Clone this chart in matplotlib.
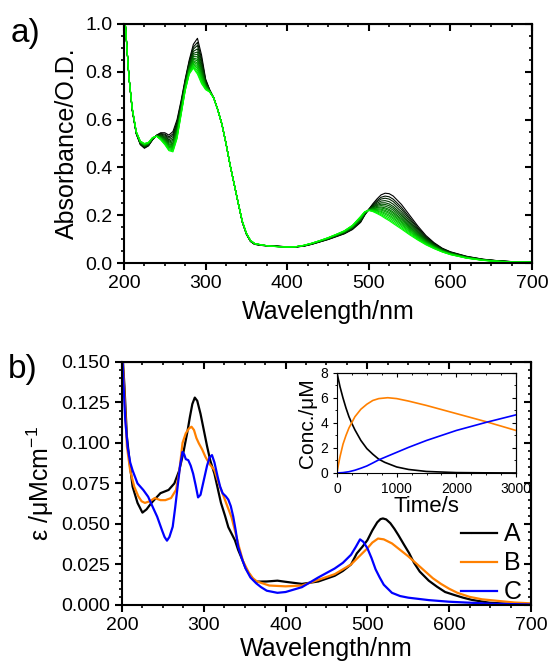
import numpy as np
import matplotlib
matplotlib.use("Agg")
import matplotlib.pyplot as plt
from matplotlib.ticker import MultipleLocator

plt.rcParams['font.family'] = ['Liberation Sans', 'DejaVu Sans']
plt.rcParams['mathtext.default'] = 'regular'

# panel a: first (black) and last (green) spectra of the series
wl_a = [200, 203, 206, 210, 215, 220, 225, 230, 235, 240, 245, 250, 255, 260, 265,
        270, 275, 280, 285, 290, 295, 300, 305, 310, 315, 320, 325, 330, 335, 340,
        345, 350, 355, 360, 370, 380, 390, 400, 410, 420, 430, 440, 450, 460, 470,
        480, 490, 495, 500, 505, 510, 515, 520, 525, 530, 540, 550, 560, 570, 580,
        590, 600, 620, 640, 660, 680, 700]
abs_first = [1.08, 0.93, 0.78, 0.64, 0.54, 0.495, 0.48, 0.49, 0.515, 0.535, 0.545, 0.545,
             0.535, 0.55, 0.60, 0.68, 0.77, 0.85, 0.915, 0.94, 0.87, 0.77, 0.725, 0.69,
             0.64, 0.58, 0.50, 0.41, 0.33, 0.25, 0.17, 0.12, 0.09, 0.078, 0.073, 0.072,
             0.070, 0.068, 0.067, 0.070, 0.078, 0.088, 0.098, 0.110, 0.122, 0.140, 0.170,
             0.200, 0.225, 0.248, 0.268, 0.285, 0.292, 0.290, 0.280, 0.245, 0.200, 0.155,
             0.115, 0.085, 0.062, 0.047, 0.028, 0.016, 0.009, 0.005, 0.004]
abs_last = [1.08, 0.93, 0.78, 0.65, 0.55, 0.51, 0.50, 0.505, 0.525, 0.53, 0.515, 0.495,
            0.47, 0.465, 0.52, 0.62, 0.72, 0.79, 0.815, 0.79, 0.75, 0.725, 0.715, 0.69,
            0.64, 0.58, 0.50, 0.41, 0.33, 0.25, 0.175, 0.125, 0.095, 0.082, 0.075, 0.070,
            0.068, 0.067, 0.068, 0.074, 0.083, 0.094, 0.106, 0.120, 0.135, 0.158, 0.195,
            0.215, 0.220, 0.215, 0.207, 0.198, 0.187, 0.177, 0.165, 0.142, 0.118, 0.096,
            0.076, 0.060, 0.046, 0.035, 0.020, 0.011, 0.006, 0.004, 0.003]
# absorbance at 520 nm of each trace, first to last
peak520 = [0.292, 0.280, 0.271, 0.261, 0.252, 0.245, 0.238, 0.231, 0.226, 0.220,
           0.215, 0.209, 0.204, 0.198, 0.192, 0.187]

# panel b: component spectra
wl_A = [200, 203, 206, 210, 213, 219, 225, 230, 236, 247, 257, 264, 270, 275, 280, 283,
        286, 289, 292, 296, 300, 304, 308, 313, 317, 321, 326, 330, 334, 338, 342, 347,
        351, 355, 360, 364, 377, 390, 400, 420, 440, 460, 470, 480, 487, 494, 500, 506,
        512, 516, 519, 523, 528, 533, 538, 545, 551, 557, 564, 575, 585, 595, 606, 617,
        628, 649, 670, 700]
eps_A = [0.160, 0.135, 0.104, 0.085, 0.073, 0.063, 0.057, 0.059, 0.063, 0.069, 0.071,
         0.075, 0.083, 0.094, 0.107, 0.116, 0.124, 0.128, 0.126, 0.118, 0.108, 0.098,
         0.089, 0.081, 0.072, 0.063, 0.055, 0.048, 0.044, 0.040, 0.034, 0.028, 0.023,
         0.0195, 0.016, 0.0144, 0.0145, 0.015, 0.0143, 0.013, 0.0145, 0.018, 0.021,
         0.025, 0.0318, 0.036, 0.040, 0.046, 0.051, 0.053, 0.0534, 0.0528, 0.0505, 0.047,
         0.043, 0.037, 0.032, 0.026, 0.0206, 0.015, 0.0113, 0.008, 0.0062, 0.0045,
         0.0031, 0.0014, 0.0008, 0.0005]
wl_B = [200, 203, 206, 210, 215, 220, 224, 228, 234, 240, 247, 253, 260, 266, 270, 274,
        278, 282, 285, 288, 291, 294, 298, 302, 307, 313, 319, 326, 334, 338, 343, 348,
        355, 360, 365, 380, 400, 420, 440, 460, 480, 490, 500, 506, 513, 520, 530, 540,
        550, 560, 570, 580, 590, 600, 610, 625, 640, 660, 680, 700]
eps_B = [0.160, 0.130, 0.098, 0.083, 0.073, 0.067, 0.064, 0.063, 0.064, 0.066, 0.0647,
         0.0647, 0.066, 0.071, 0.082, 0.100, 0.106, 0.109, 0.110, 0.108, 0.103, 0.0997,
         0.096, 0.0914, 0.087, 0.0832, 0.074, 0.0647, 0.054, 0.046, 0.036, 0.027, 0.020,
         0.0165, 0.0145, 0.012, 0.0115, 0.012, 0.0155, 0.019, 0.025, 0.030, 0.035, 0.0385,
         0.041, 0.0405, 0.038, 0.034, 0.030, 0.0255, 0.021, 0.0165, 0.013, 0.010, 0.0075,
         0.005, 0.0035, 0.0025, 0.0015, 0.001]
wl_C = [200, 202, 204, 207, 210, 213, 219, 226, 232, 238, 243, 249, 252, 255, 258, 262,
        265, 268, 271, 274, 276, 278, 281, 284, 287, 290, 293, 296, 300, 304, 307, 310,
        313, 317, 320, 323, 327, 330, 333, 336, 339, 342, 347, 351, 357, 364, 370, 377,
        390, 400, 420, 440, 460, 470, 480, 486, 491, 495, 500, 505, 510, 515, 520, 530,
        540, 550, 575, 600, 650, 700]
eps_C = [0.160, 0.135, 0.114, 0.097, 0.088, 0.083, 0.075, 0.071, 0.0668, 0.060, 0.0545,
         0.046, 0.042, 0.0397, 0.042, 0.0483, 0.060, 0.073, 0.086, 0.0945, 0.093, 0.090,
         0.0894, 0.086, 0.081, 0.074, 0.0664, 0.068, 0.077, 0.086, 0.091, 0.0925, 0.088,
         0.079, 0.073, 0.069, 0.067, 0.065, 0.061, 0.0545, 0.046, 0.036, 0.028, 0.0226,
         0.017, 0.0134, 0.011, 0.0088, 0.0075, 0.008, 0.011, 0.017, 0.0225, 0.026, 0.031,
         0.036, 0.0405, 0.039, 0.035, 0.029, 0.022, 0.017, 0.0125, 0.0075, 0.0055, 0.0045,
         0.003, 0.002, 0.0008, 0.0003]

# inset: concentration traces
t_A = [0, 50, 100, 150, 200, 250, 300, 400, 500, 600, 700, 800, 1000, 1200, 1500, 2000, 2500, 3000]
c_A = [8.0, 6.9, 6.0, 5.2, 4.5, 3.95, 3.45, 2.6, 1.95, 1.5, 1.1, 0.85, 0.48, 0.28, 0.12, 0.03, 0.01, 0.0]
t_B = [0, 25, 50, 100, 150, 200, 300, 400, 500, 600, 700, 850, 1000, 1200, 1500, 2000, 2500, 3000]
c_B = [0.0, 0.7, 1.3, 2.3, 3.0, 3.6, 4.5, 5.1, 5.5, 5.8, 5.95, 6.02, 5.95, 5.75, 5.4, 4.75, 4.1, 3.4]
t_C = [0, 100, 200, 300, 400, 500, 600, 700, 800, 1000, 1200, 1500, 2000, 2500, 3000]
c_C = [0.0, 0.03, 0.1, 0.22, 0.38, 0.56, 0.8, 1.05, 1.25, 1.65, 2.05, 2.6, 3.4, 4.05, 4.65]

labels_b = ['A', 'B', 'C']
colors_b = ['black', '#ff8000', '#0000ff']


def style_axes(ax, xmaj, xmin, ymaj, ymin, lw=1.5, lab=14, maj=5, mnr=2.5):
    for s in ax.spines.values():
        s.set_linewidth(lw)
    ax.xaxis.set_major_locator(MultipleLocator(xmaj))
    ax.xaxis.set_minor_locator(MultipleLocator(xmin))
    ax.yaxis.set_major_locator(MultipleLocator(ymaj))
    ax.yaxis.set_minor_locator(MultipleLocator(ymin))
    ax.tick_params(which='both', direction='out', top=False, right=False,
                   labelsize=lab, width=lw)
    ax.tick_params(which='major', length=maj)
    ax.tick_params(which='minor', length=mnr, width=lw * 0.8)
    # mirrored ticks pointing inwards on top and right
    top = ax.secondary_xaxis('top')
    top.xaxis.set_major_locator(MultipleLocator(xmaj))
    top.xaxis.set_minor_locator(MultipleLocator(xmin))
    top.tick_params(which='both', direction='in', labeltop=False, width=lw)
    top.tick_params(which='major', length=maj)
    top.tick_params(which='minor', length=mnr, width=lw * 0.8)
    rt = ax.secondary_yaxis('right')
    rt.yaxis.set_major_locator(MultipleLocator(ymaj))
    rt.yaxis.set_minor_locator(MultipleLocator(ymin))
    rt.tick_params(which='both', direction='in', labelright=False, width=lw)
    rt.tick_params(which='major', length=maj)
    rt.tick_params(which='minor', length=mnr, width=lw * 0.8)


fig = plt.figure(figsize=(5.48, 6.64), dpi=100)

# ---- panel a
ax1 = fig.add_axes([0.2263, 0.6039, 0.7445, 0.36])
first = np.array(abs_first)
last = np.array(abs_last)
n = len(peak520)
for i, p in enumerate(peak520):
    w = (p - peak520[-1]) / (peak520[0] - peak520[-1])
    frac = i / (n - 1)
    ax1.plot(wl_a, last + w * (first - last), color=(0, frac, 0), lw=0.8)
ax1.set_xlim(200, 700)
ax1.set_ylim(0, 1.0)
style_axes(ax1, 100, 25, 0.2, 0.05)
ax1.set_xlabel('Wavelength/nm', fontsize=18, labelpad=6)
ax1.set_ylabel('Absorbance/O.D.', fontsize=18, labelpad=4)
fig.text(0.02, 0.95, 'a)', fontsize=24, va='center')

# ---- panel b
ax2 = fig.add_axes([0.2226, 0.0889, 0.7464, 0.366])
spectra = [(wl_A, eps_A), (wl_B, eps_B), (wl_C, eps_C)]
for (x, y), lab, c in zip(spectra, labels_b, colors_b):
    ax2.plot(x, y, color=c, lw=1.6, label=lab)
ax2.set_xlim(200, 700)
ax2.set_ylim(0, 0.15)
style_axes(ax2, 100, 25, 0.025, 0.005)
ax2.set_xlabel('Wavelength/nm', fontsize=18, labelpad=2)
ax2.set_ylabel('ε /μMcm$^{-1}$', fontsize=18, labelpad=4)
ax2.legend(loc='center left', bbox_to_anchor=(0.829, 0.171), frameon=False,
           fontsize=18, handlelength=1.45, handletextpad=0.25, labelspacing=0.2,
           borderpad=0, borderaxespad=0)
fig.text(0.015, 0.443, 'b)', fontsize=24, va='center')

# ---- inset
ax3 = fig.add_axes([0.615, 0.2877, 0.3266, 0.1506])
for (x, y), c in zip([(t_A, c_A), (t_B, c_B), (t_C, c_C)], colors_b):
    ax3.plot(x, y, color=c, lw=1.2)
ax3.set_xlim(0, 3000)
ax3.set_ylim(0, 8)
style_axes(ax3, 1000, 250, 2, 1, lw=0.8, lab=10, maj=3, mnr=1.5)
ax3.set_xlabel('Time/s', fontsize=16, labelpad=0)
ax3.set_ylabel('Conc./μM', fontsize=15, labelpad=2)

fig.savefig('out.png', dpi=100)
